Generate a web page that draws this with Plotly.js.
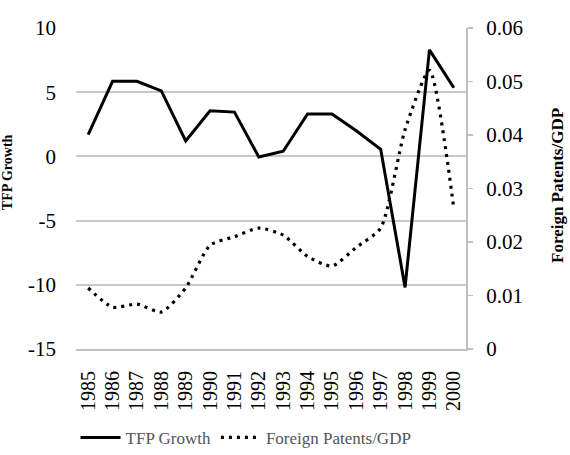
<!DOCTYPE html>
<html>
<head>
<meta charset="utf-8">
<script src="https://cdn.plot.ly/plotly-3.0.1.min.js"></script>
<style>html,body{margin:0;padding:0;background:#fff;}#chart{width:570px;height:455px;}</style>
</head>
<body>
<div id="chart"></div>
<script>
const years = ['1985','1986','1987','1988','1989','1990','1991','1992','1993','1994','1995','1996','1997','1998','1999','2000'];
const tfpGrowth = [1.7, 5.85, 5.85, 5.1, 1.2, 3.55, 3.45, -0.05, 0.4, 3.3, 3.3, 2.0, 0.55, -10.2, 8.3, 5.35];
const foreignPatentsGDP = [0.0114, 0.0078, 0.0084, 0.0069, 0.0114, 0.0194, 0.021, 0.0226, 0.0213, 0.0173, 0.0155, 0.019, 0.0226, 0.041, 0.0521, 0.0263];
const leftTicks = [-15, -10, -5, 0, 5, 10];
const rightTicks = [0, 0.01, 0.02, 0.03, 0.04, 0.05, 0.06];

const serif = 'Liberation Serif, Times New Roman, serif';

const traces = [
  {
    x: years, y: tfpGrowth, name: 'TFP Growth', type: 'scatter', mode: 'lines',
    line: {color: '#000000', width: 3}, yaxis: 'y'
  },
  {
    x: years, y: foreignPatentsGDP, name: 'Foreign Patents/GDP', type: 'scatter', mode: 'lines',
    line: {color: '#000000', width: 3.2, dash: '3px,5px', shape: 'spline', smoothing: 0.6}, yaxis: 'y2'
  }
];

const layout = {
  width: 570, height: 455,
  margin: {l: 76, r: 104, t: 28, b: 106, pad: 0, autoexpand: false},
  paper_bgcolor: '#ffffff', plot_bgcolor: '#ffffff',
  font: {family: serif, color: '#000000', size: 16},
  showlegend: true,
  legend: {
    orientation: 'h', x: 0.436, xanchor: 'center', y: -0.277, yanchor: 'middle',
    font: {family: serif, size: 17, color: '#555555'}, itemwidth: 40, tracegroupgap: 0
  },
  xaxis: {
    type: 'category', range: [-0.5, 15.5], tickangle: -90, showgrid: false, zeroline: false,
    showline: true, linecolor: '#bfbfbf', linewidth: 2, ticks: '', automargin: false,
    tickfont: {family: serif, size: 20, color: '#000000'}, ticklabelstandoff: 12
  },
  yaxis: {
    range: [-15, 10], tickvals: leftTicks, ticktext: leftTicks.map(String), automargin: false,
    showgrid: true, gridcolor: '#c8c8c8', gridwidth: 2, zeroline: false,
    showline: false, ticks: '', ticklabelstandoff: 19,
    tickfont: {family: serif, size: 21, color: '#000000'}
  },
  yaxis2: {
    range: [0, 0.06], overlaying: 'y', side: 'right', tickvals: rightTicks, automargin: false,
    ticktext: rightTicks.map(v => v === 0 ? '0' : v.toFixed(2)),
    showgrid: false, zeroline: false, showline: true, linecolor: '#bfbfbf', linewidth: 2,
    ticks: 'outside', ticklen: 5, tickcolor: '#bfbfbf', tickwidth: 1.5,
    tickfont: {family: serif, size: 21, color: '#000000'}, ticklabelstandoff: 9
  },
  annotations: [
    {
      text: '<b>TFP Growth</b>', xref: 'paper', yref: 'paper', x: -0.175, y: 0.55,
      xanchor: 'center', yanchor: 'middle', textangle: -90, showarrow: false,
      font: {family: serif, size: 14, color: '#000000'}
    },
    {
      text: '<b>Foreign Patents/GDP</b>', xref: 'paper', yref: 'paper', x: 1.236, y: 0.508,
      xanchor: 'center', yanchor: 'middle', textangle: -90, showarrow: false,
      font: {family: serif, size: 17, color: '#000000'}
    }
  ]
};

Plotly.newPlot('chart', traces, layout, {displayModeBar: false, staticPlot: true});
</script>
</body>
</html>
